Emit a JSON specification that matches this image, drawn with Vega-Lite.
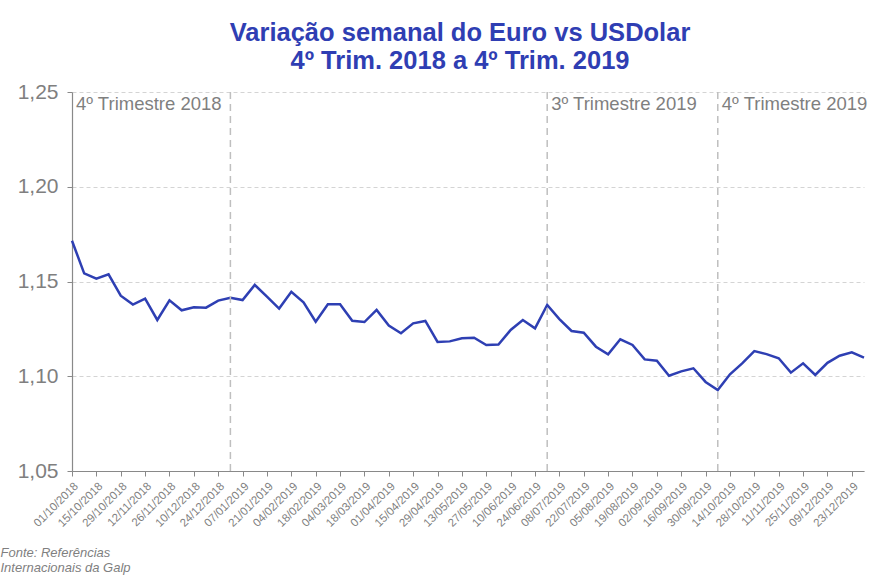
{
  "$schema": "https://vega.github.io/schema/vega-lite/v6.json",
  "autosize": {"type": "none"},
  "width": 792,
  "height": 379,
  "padding": {"left": 72, "top": 92, "right": 8, "bottom": 104},
  "background": "white",
  "config": {"view": {"stroke": null}, "font": "Liberation Sans"},
  "title": {
    "text": ["Variação semanal do Euro vs USDolar", "4º Trim. 2018 a 4º Trim. 2019"],
    "font": "Liberation Sans",
    "fontSize": 25.5,
    "fontWeight": "bold",
    "color": "#2F3EB3",
    "anchor": "middle",
    "dx": -8,
    "offset": 7,
    "lineHeight": 28
  },
  "datasets": {
    "eurusd": [
      {"date": "01/10/2018", "rate": 1.1715},
      {"date": "08/10/2018", "rate": 1.1543},
      {"date": "15/10/2018", "rate": 1.1515},
      {"date": "22/10/2018", "rate": 1.1538},
      {"date": "29/10/2018", "rate": 1.1425},
      {"date": "05/11/2018", "rate": 1.1378},
      {"date": "12/11/2018", "rate": 1.1409},
      {"date": "19/11/2018", "rate": 1.1297},
      {"date": "26/11/2018", "rate": 1.1401},
      {"date": "03/12/2018", "rate": 1.1348},
      {"date": "10/12/2018", "rate": 1.1364},
      {"date": "17/12/2018", "rate": 1.1362},
      {"date": "24/12/2018", "rate": 1.1399},
      {"date": "31/12/2018", "rate": 1.1414},
      {"date": "07/01/2019", "rate": 1.1402},
      {"date": "14/01/2019", "rate": 1.1482},
      {"date": "21/01/2019", "rate": 1.142},
      {"date": "28/01/2019", "rate": 1.1357},
      {"date": "04/02/2019", "rate": 1.1446},
      {"date": "11/02/2019", "rate": 1.139},
      {"date": "18/02/2019", "rate": 1.1288},
      {"date": "25/02/2019", "rate": 1.138},
      {"date": "04/03/2019", "rate": 1.138},
      {"date": "11/03/2019", "rate": 1.1293},
      {"date": "18/03/2019", "rate": 1.1286},
      {"date": "25/03/2019", "rate": 1.135},
      {"date": "01/04/2019", "rate": 1.1268},
      {"date": "08/04/2019", "rate": 1.1227},
      {"date": "15/04/2019", "rate": 1.1279},
      {"date": "22/04/2019", "rate": 1.1292},
      {"date": "29/04/2019", "rate": 1.1181},
      {"date": "06/05/2019", "rate": 1.1184},
      {"date": "13/05/2019", "rate": 1.12},
      {"date": "20/05/2019", "rate": 1.1203},
      {"date": "27/05/2019", "rate": 1.1165},
      {"date": "03/06/2019", "rate": 1.1167},
      {"date": "10/06/2019", "rate": 1.1244},
      {"date": "17/06/2019", "rate": 1.1297},
      {"date": "24/06/2019", "rate": 1.1253},
      {"date": "01/07/2019", "rate": 1.1376},
      {"date": "08/07/2019", "rate": 1.1302},
      {"date": "15/07/2019", "rate": 1.1239},
      {"date": "22/07/2019", "rate": 1.123},
      {"date": "29/07/2019", "rate": 1.1156},
      {"date": "05/08/2019", "rate": 1.1116},
      {"date": "12/08/2019", "rate": 1.1195},
      {"date": "19/08/2019", "rate": 1.1165},
      {"date": "26/08/2019", "rate": 1.1089},
      {"date": "02/09/2019", "rate": 1.1082},
      {"date": "09/09/2019", "rate": 1.1003},
      {"date": "16/09/2019", "rate": 1.1026},
      {"date": "23/09/2019", "rate": 1.1042},
      {"date": "30/09/2019", "rate": 1.097},
      {"date": "07/10/2019", "rate": 1.0927},
      {"date": "14/10/2019", "rate": 1.101},
      {"date": "21/10/2019", "rate": 1.1068},
      {"date": "28/10/2019", "rate": 1.1133},
      {"date": "04/11/2019", "rate": 1.1117},
      {"date": "11/11/2019", "rate": 1.1095},
      {"date": "18/11/2019", "rate": 1.1019},
      {"date": "25/11/2019", "rate": 1.1068},
      {"date": "02/12/2019", "rate": 1.1007},
      {"date": "09/12/2019", "rate": 1.1071},
      {"date": "16/12/2019", "rate": 1.1108},
      {"date": "23/12/2019", "rate": 1.1126},
      {"date": "30/12/2019", "rate": 1.1098}
    ],
    "quarters": [
      {"date": "31/12/2018"},
      {"date": "01/07/2019"},
      {"date": "07/10/2019"}
    ],
    "labels": [
      {"date": "01/10/2018", "label": "4º Trimestre 2018"},
      {"date": "01/07/2019", "label": "3º Trimestre 2019"},
      {"date": "07/10/2019", "label": "4º Trimestre 2019"}
    ]
  },
  "layer": [
    {
      "data": {"name": "eurusd"},
      "mark": {"type": "line", "color": "#2E3FB3", "strokeWidth": 2.5, "strokeJoin": "miter"},
      "encoding": {
        "x": {
          "field": "date",
          "type": "ordinal",
          "sort": null,
          "scale": {"type": "point", "padding": 0},
          "axis": {
            "values": ["01/10/2018","15/10/2018","29/10/2018","12/11/2018","26/11/2018","10/12/2018","24/12/2018","07/01/2019","21/01/2019","04/02/2019","18/02/2019","04/03/2019","18/03/2019","01/04/2019","15/04/2019","29/04/2019","13/05/2019","27/05/2019","10/06/2019","24/06/2019","08/07/2019","22/07/2019","05/08/2019","19/08/2019","02/09/2019","16/09/2019","30/09/2019","14/10/2019","28/10/2019","11/11/2019","25/11/2019","09/12/2019","23/12/2019"],
            "labelAngle": -45,
            "labelAlign": "right",
            "labelBaseline": "top",
            "labelFont": "Liberation Sans",
            "labelFontSize": 11.5,
            "labelColor": "#7F7F7F",
            "labelPadding": 4,
            "labelOverlap": false,
            "labelBound": false,
            "domainColor": "#898989",
            "domainWidth": 1.2,
            "tickColor": "#898989",
            "tickSize": 5,
            "grid": false,
            "title": ["Fonte: Referências", "Internacionais da Galp"],
            "titleFont": "Liberation Sans",
            "titleFontSize": 13,
            "titleFontStyle": "italic",
            "titleFontWeight": "normal",
            "titleColor": "#7F7F7F",
            "titleAlign": "left",
            "titleAnchor": null,
            "titleBaseline": "alphabetic",
            "titleX": -72,
            "titleY": 85,
            "titleLineHeight": 15
          }
        },
        "y": {
          "field": "rate",
          "type": "quantitative",
          "scale": {"domain": [1.05, 1.25], "zero": false, "nice": false},
          "axis": {
            "values": [1.05, 1.1, 1.15, 1.2, 1.25],
            "labelExpr": "replace(format(datum.value, '.2f'), '.', ',')",
            "labelFont": "Liberation Sans",
            "labelFontSize": 21,
            "labelColor": "#7F7F7F",
            "labelPadding": 9,
            "domainColor": "#898989",
            "domainWidth": 1.2,
            "tickColor": "#898989",
            "tickSize": 5,
            "gridColor": "#D4D4D4",
            "gridDash": [4, 3],
            "gridWidth": 1,
            "title": null
          }
        }
      }
    },
    {
      "data": {"name": "quarters"},
      "mark": {"type": "rule", "color": "#BFBFBF", "strokeWidth": 1.5, "strokeDash": [7, 5]},
      "encoding": {
        "x": {"field": "date", "type": "ordinal", "sort": null}
      }
    },
    {
      "data": {"name": "labels"},
      "mark": {"type": "text", "align": "left", "baseline": "top", "dx": 4, "dy": 3, "font": "Liberation Sans", "fontSize": 18.5, "color": "#7F7F7F"},
      "encoding": {
        "x": {"field": "date", "type": "ordinal", "sort": null},
        "y": {"datum": 1.25, "type": "quantitative"},
        "text": {"field": "label"}
      }
    }
  ]
}
